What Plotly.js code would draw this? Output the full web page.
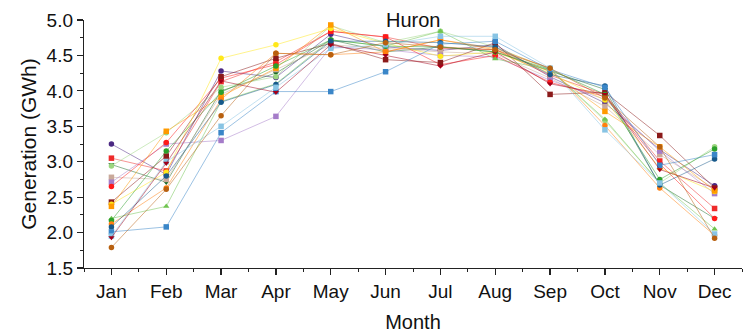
<!DOCTYPE html>
<html>
<head>
<meta charset="utf-8">
<script src="https://cdn.plot.ly/plotly-3.0.1.min.js"></script>
<style>html,body{margin:0;padding:0;background:#fff;}#chart{width:743px;height:335px;}</style>
</head>
<body>
<div id="chart"></div>
<script>
const months = ['Jan','Feb','Mar','Apr','May','Jun','Jul','Aug','Sep','Oct','Nov','Dec'];

const s1  = [3.25, 2.82, 4.28, 4.19, 4.80, 4.62, 4.57, 4.65, 4.20, 3.83, 3.17, 2.66];
const s2  = [3.05, 2.87, 4.13, 4.41, 4.84, 4.76, 4.60, 4.58, 4.22, 3.95, 3.01, 2.34];
const s3  = [2.96, 2.71, 4.00, 4.25, 4.72, 4.55, 4.62, 4.55, 4.28, 4.02, 2.67, 2.20];
const s4  = [2.94, 3.41, 4.05, 4.20, 4.92, 4.68, 4.84, 4.62, 4.30, 3.58, 2.70, 3.21];
const s5  = [2.78, 2.75, 3.95, 4.30, 4.65, 4.60, 4.55, 4.52, 4.18, 3.78, 3.10, 2.62];
const s6  = [2.71, 3.25, 3.30, 3.64, 4.62, 4.58, 4.50, 4.48, 4.15, 3.88, 3.15, 2.55];
const s7  = [2.65, 3.27, 4.18, 4.37, 4.84, 4.76, 4.37, 4.50, 4.12, 3.92, 2.97, 2.20];
const s8  = [2.43, 3.08, 4.20, 4.46, 4.67, 4.44, 4.40, 4.68, 3.95, 3.98, 3.37, 2.63];
const s9  = [2.40, 2.85, 4.46, 4.65, 4.88, 4.67, 4.49, 4.55, 4.25, 3.87, 2.91, 2.58];
const s10 = [2.37, 3.43, 3.92, 4.32, 4.93, 4.55, 4.72, 4.58, 4.27, 3.71, 3.21, 2.59];
const s11 = [2.20, 2.37, 3.85, 4.10, 4.72, 4.63, 4.84, 4.45, 4.30, 3.60, 2.70, 2.05];
const s12 = [2.17, 3.15, 3.98, 4.35, 4.72, 4.63, 4.62, 4.55, 4.30, 3.95, 2.75, 3.18];
const s13 = [2.12, 2.63, 3.88, 4.53, 4.51, 4.55, 4.72, 4.60, 4.32, 3.51, 2.63, 1.96];
const s14 = [2.08, 2.80, 3.84, 4.09, 4.70, 4.70, 4.68, 4.62, 4.23, 4.07, 2.67, 3.04];
const s15 = [2.01, 2.08, 3.41, 3.99, 3.99, 4.27, 4.66, 4.70, 4.30, 4.05, 2.95, 3.10];
const s16 = [1.95, 3.00, 3.50, 4.05, 4.60, 4.65, 4.77, 4.77, 4.32, 3.45, 2.70, 1.98];
const s17 = [1.93, 2.98, 4.14, 3.98, 4.65, 4.50, 4.35, 4.55, 4.10, 3.95, 2.89, 2.63];
const s18 = [1.79, 2.61, 3.65, 4.53, 4.51, 4.68, 4.62, 4.58, 4.32, 3.90, 3.21, 1.92];

const seriesList = [s1,s2,s3,s4,s5,s6,s7,s8,s9,s10,s11,s12,s13,s14,s15,s16,s17,s18];
const colors = ['#4b2883','#ee2a2a','#1d6b2a','#9bd67f','#c9a99a','#a57cc9','#ff1a1a','#8b1a1a','#ffe81a',
                '#ff9a00','#6fc44f','#2ca02c','#ff7f0e','#17598a','#3a86c8','#88c4e4','#a3001a','#b8600f'];
const symbols = ['circle','square','triangle-down','circle','square','square','circle','square','circle',
                 'square','triangle-up','circle','circle','circle','square','square','triangle-down','circle'];

function rgba(hex, a){
  const r=parseInt(hex.slice(1,3),16), g=parseInt(hex.slice(3,5),16), b=parseInt(hex.slice(5,7),16);
  return `rgba(${r},${g},${b},${a})`;
}
const xs = months.map((m,i)=>i);
const traces = seriesList.map((s,i)=>({
  x: xs, y: s, type:'scatter', mode:'lines+markers',
  line:{color: rgba(colors[i],0.5), width:1},
  marker:{color: colors[i], symbol: symbols[i], size:5.5, line:{width:0}},
  showlegend:false, hoverinfo:'skip'
}));

const font = {family:'"Liberation Sans", Arial, sans-serif', color:'#111'};
const layout = {
  width:743, height:335,
  margin:{l:84, r:1, t:20, b:67},
  paper_bgcolor:'#fff', plot_bgcolor:'#fff',
  font: Object.assign({size:19}, font),
  xaxis:{
    range:[-0.5, 11.5], tickmode:'array', tickvals: xs, ticktext: months,
    showline:true, linecolor:'#222', linewidth:1.2, ticks:'outside', ticklen:6, tickwidth:1.2, tickcolor:'#222',
    showgrid:false, zeroline:false,
    minor:{tickmode:'linear', tick0:-0.5, dtick:1, ticks:'outside', ticklen:3, tickwidth:1, tickcolor:'#222'},
    tickfont:{size:19},
    title:{text:'Month', font:{size:20}, standoff:14}
  },
  yaxis:{
    range:[1.5, 5.0], tickmode:'linear', tick0:1.5, dtick:0.5, tickformat:'.1f',
    showline:true, linecolor:'#222', linewidth:1.2, ticks:'outside', ticklen:6, tickwidth:1.2, tickcolor:'#222',
    showgrid:false, zeroline:false,
    minor:{tickmode:'linear', tick0:1.5, dtick:0.25, ticks:'outside', ticklen:3, tickwidth:1, tickcolor:'#222'},
    tickfont:{size:19},
    title:{text:'Generation (GWh)', font:{size:21}, standoff:4}
  },
  annotations:[{text:'Huron', xref:'paper', yref:'paper', x:0.5, y:1, xanchor:'center', yanchor:'middle',
    showarrow:false, font:{size:20, color:'#111'}}]
};
Plotly.newPlot('chart', traces, layout, {staticPlot:true, displayModeBar:false});
</script>
</body>
</html>
